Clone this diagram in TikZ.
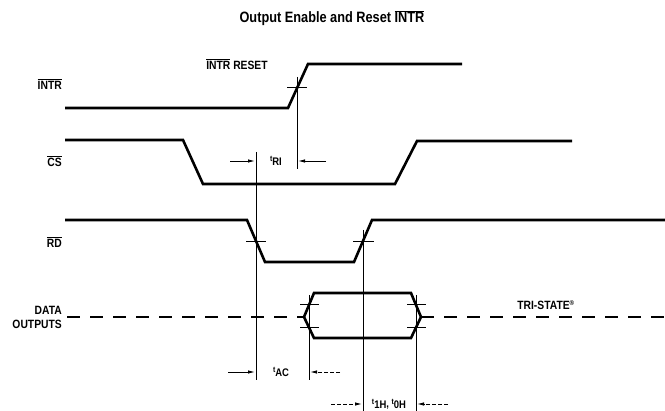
\documentclass[tikz,border=0pt]{standalone}
\usepackage{fontspec}
\setmainfont{Liberation Sans}
\newfontfamily\condfont{Liberation Sans}[FakeStretch=0.86]
\newfontfamily\ttlfont{Liberation Sans}[FakeStretch=0.85]
\usetikzlibrary{arrows.meta}
\newcommand\ovl[1]{$\overline{\hbox{#1}}$}
\newcommand\tsym[1]{\raisebox{2.5pt}{\fontsize{8}{8}\selectfont t}\raisebox{-1.5pt}{#1}}
\begin{document}
\begin{tikzpicture}[x=1pt,y=-1pt,
  sig/.style={line width=2.6pt, line join=miter, line cap=butt},
  tri/.style={line width=2.6pt, dash pattern=on 13pt off 10pt},
  ref/.style={line width=0.9pt},
  tick/.style={line width=0.8pt},
  dim/.style={line width=0.9pt, -{Latex[length=7pt,width=3.5pt]}},
  dimd/.style={dim, dash pattern=on 4pt off 2pt},
  lab/.style={inner sep=0pt, font=\condfont\bfseries\fontsize{12}{12}\selectfont},
  tlab/.style={inner sep=0pt, font=\condfont\bfseries\fontsize{11}{11}\selectfont}]
\useasboundingbox (0,0) rectangle (665,411);

% title
\node[inner sep=0pt, font=\ttlfont\bfseries\fontsize{15}{15}\selectfont] (title) at (332,18) {Output Enable and Reset \ovl{INTR}};

% signal labels
\node[lab, anchor=east] (lintr) at (62,84) {\ovl{INTR}};
\node[lab, anchor=east] (lcs) at (62,161) {\ovl{CS}};
\node[lab, anchor=east] (lrd) at (62,242) {\ovl{RD}};
\node[lab, anchor=east, align=right] (ldata) at (62,317) {DATA\\[2pt]OUTPUTS};
\node[lab] (lreset) at (237,64) {\ovl{INTR} RESET};
\node[lab] (ltri) at (546,305) {TRI-STATE\textsuperscript{\fontsize{7}{7}\selectfont\textregistered}};

% INTR waveform
\draw[sig] (65,108) -- (288,108) -- (308,64) -- (462,64);
\draw[tick] (287,87) -- (307,87);
% CS waveform
\draw[sig] (65,140) -- (183,140) -- (203,184) -- (395,184) -- (417,141) -- (572,141);
% RD waveform
\draw[sig] (65,220) -- (247,220) -- (265,262) -- (354,262) -- (372,220) -- (665,220);
\draw[tick] (246,241) -- (266,241);
\draw[tick] (353,241) -- (374,241);
% Data outputs
\draw[tri] (67,317) -- (304,317);
\draw[sig] (304,317) -- (314,293) -- (411,293) -- (421,317) -- (411,338) -- (314,338) -- cycle;
\draw[tri] (421,317) -- (665,317);
\draw[tick] (300,304) -- (319,304);
\draw[tick] (300,327) -- (319,327);
\draw[tick] (407,304) -- (426,304);
\draw[tick] (407,327) -- (426,327);

% reference lines
\coordinate (v1t) at (297,77);  \coordinate (v1b) at (297,169);
\coordinate (v2t) at (256,152); \coordinate (v2b) at (256,380);
\coordinate (v3t) at (363,230); \coordinate (v3b) at (363,411);
\coordinate (v4t) at (309,295); \coordinate (v4b) at (309,380);
\coordinate (v5t) at (416,295); \coordinate (v5b) at (416,411);
\draw[ref] (v1t) -- (v1b);
\draw[ref] (v2t) -- (v2b);
\draw[ref] (v3t) -- (v3b);
\draw[ref] (v4t) -- (v4b);
\draw[ref] (v5t) -- (v5b);

% tRI
\coordinate (a1) at (230,161); \coordinate (a1e) at (255,161);
\coordinate (a2) at (326,161); \coordinate (a2e) at (298,161);
\draw[dim] (a1) -- (a1e);
\draw[dim] (a2) -- (a2e);
\node[tlab] (tri) at (276,161) {\tsym{RI}};

% tAC
\coordinate (b1) at (228,372); \coordinate (b1e) at (255,372);
\coordinate (b2) at (340,372); \coordinate (b2e) at (310,372);
\draw[dim] (b1) -- (b1e);
\draw[dimd] (b2) -- (b2e);
\node[tlab] (tac) at (281,372) {\tsym{AC}};

% t1H, t0H
\coordinate (c1) at (331,404); \coordinate (c1e) at (362,404);
\coordinate (c2) at (448,404); \coordinate (c2e) at (417,404);
\draw[dimd] (c1) -- (c1e);
\draw[dimd] (c2) -- (c2e);
\node[tlab] (tih) at (389,404) {\tsym{1H}, \tsym{0H}};
\end{tikzpicture}
\end{document}
